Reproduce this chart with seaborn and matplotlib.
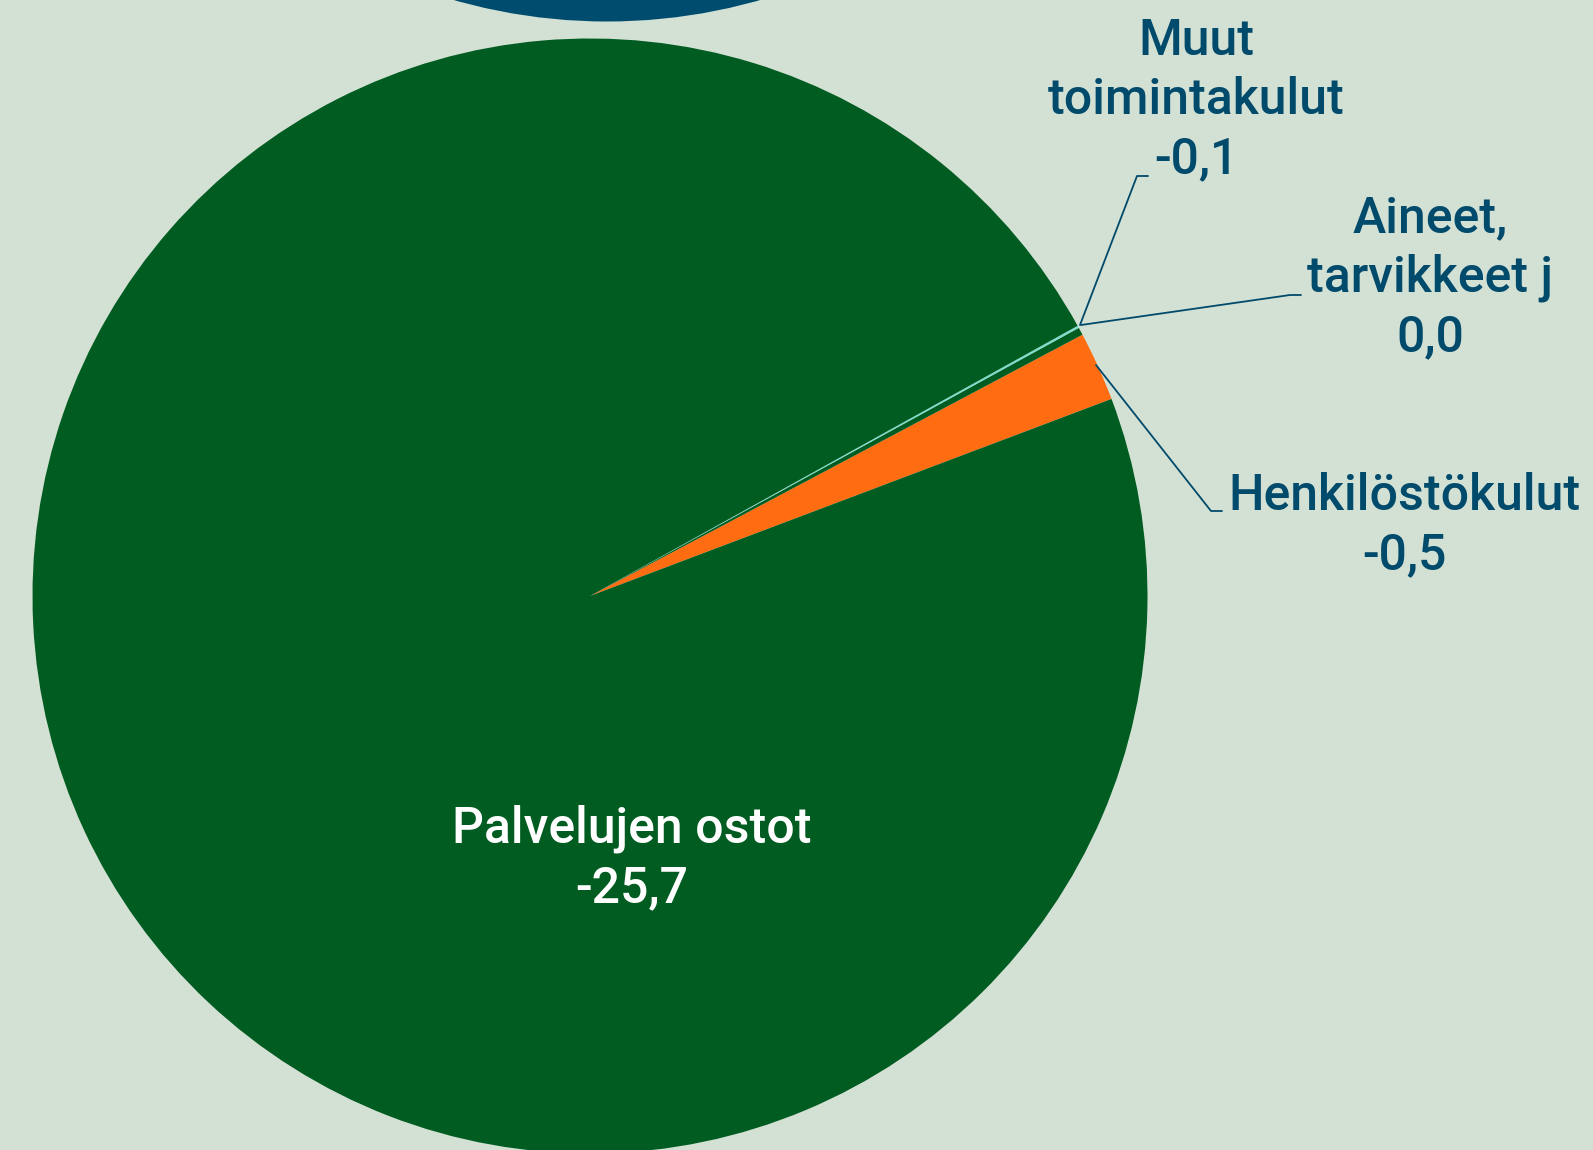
import matplotlib
matplotlib.use("Agg")
import matplotlib.pyplot as plt
import seaborn as sns

# data (million euros, shown as negative costs)
categories = ["Henkilöstökulut", "Muut\ntoimintakulut", "Aineet,\ntarvikkeet j", "Palvelujen ostot"]
values = [-0.53, -0.058, -0.018, -25.7]
value_labels = ["-0,5", "-0,1", "0,0", "-25,7"]
slice_colors = ["#FF6C12", "#005C20", "#7FDCCB", "#005C20"]

# pie of the chart above (only its bottom edge shows)
top_values = [1.0]
top_colors = ["#004C6E"]

BG = "#D3E0D4"
TXT = "#004A6B"

sns.set_theme(style="white")
plt.rcParams["font.family"] = ["Roboto", "DejaVu Sans"]

W, H = 1593, 1150
fig = plt.figure(figsize=(W / 100, H / 100), dpi=100, facecolor=BG)
ax = fig.add_axes([0, 0, 1, 1])
ax.set_facecolor(BG)

# main pie
ax.pie([abs(v) for v in values], colors=slice_colors, startangle=20.7,
       counterclock=True, center=(590, H - 596), radius=557.5,
       wedgeprops=dict(linewidth=0))

# partial pie at the top
ax.pie(top_values, colors=top_colors, center=(607, H + 536), radius=557.5,
       wedgeprops=dict(linewidth=0))

ax.set_xlim(0, W)
ax.set_ylim(0, H)
ax.set_aspect("equal")
ax.axis("off")

fs = 36

# labels: (text centre in px, leader line points in px)
label_pos = {
    "Palvelujen ostot": (632, 858),
    "Muut\ntoimintakulut": (1196, 100),
    "Aineet,\ntarvikkeet j": (1430, 278),
    "Henkilöstökulut": (1404, 526),
}
leaders = {
    "Muut\ntoimintakulut": [(1148, 176), (1137, 176), (1080, 325)],
    "Aineet,\ntarvikkeet j": [(1301, 295), (1290, 295), (1081, 325)],
    "Henkilöstökulut": [(1222, 511), (1211, 511), (1096, 365)],
}

for cat, val in zip(categories, value_labels):
    x, y = label_pos[cat]
    color = "white" if cat == "Palvelujen ostot" else TXT
    ax.text(x, H - y, f"{cat}\n{val}", ha="center", va="center",
            fontsize=fs, fontweight="medium", color=color, linespacing=1.3)
    if cat in leaders:
        pts = leaders[cat]
        ax.plot([p[0] for p in pts], [H - p[1] for p in pts], color=TXT, lw=1.3)

fig.savefig("out.png", dpi=100, facecolor=BG)
